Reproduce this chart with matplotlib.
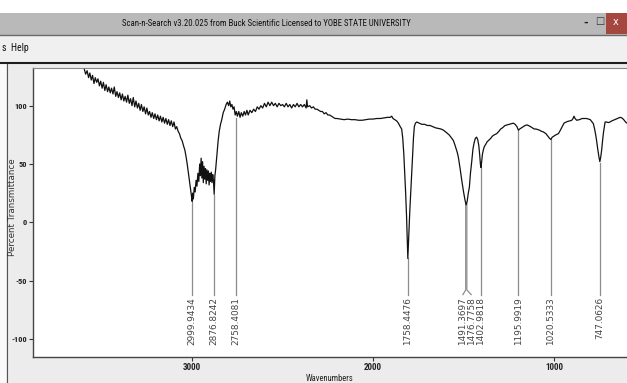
import matplotlib
matplotlib.use("Agg")
import matplotlib.pyplot as plt
from matplotlib.patches import Rectangle

# spectrum (wavenumber, % transmittance)
wavenumber = [3595, 3588, 3580, 3572, 3565, 3557, 3550, 3542, 3535, 3527, 3520, 3512, 3505, 3497, 3490,
              3482, 3475, 3467, 3460, 3452, 3445, 3437, 3430, 3422, 3415, 3407, 3400, 3392, 3385, 3377,
              3370, 3362, 3355, 3347, 3340, 3332, 3325, 3317, 3310, 3302, 3295, 3287, 3280, 3272, 3265,
              3257, 3250, 3242, 3235, 3227, 3220, 3212, 3205, 3197, 3190, 3182, 3175, 3167, 3160, 3152,
              3145, 3137, 3130, 3122, 3115, 3107, 3100, 3092, 3085, 3077, 3070, 3062, 3055, 3048, 3040,
              3033, 3027, 3020, 3014, 3008, 3003, 3000, 2997, 2993, 2988, 2983, 2978, 2973, 2968, 2963,
              2958, 2954, 2950, 2946, 2942, 2938, 2934, 2930, 2926, 2922, 2918, 2914, 2910, 2906, 2902,
              2898, 2894, 2890, 2886, 2882, 2878, 2874, 2870, 2866, 2862, 2856, 2850, 2843, 2836, 2828,
              2820, 2812, 2805, 2798, 2792, 2786, 2780, 2774, 2768, 2762, 2756, 2750, 2742, 2735, 2728,
              2720, 2712, 2705, 2697, 2690, 2680, 2670, 2660, 2650, 2640, 2630, 2620, 2610, 2600, 2590,
              2580, 2570, 2560, 2550, 2540, 2530, 2520, 2510, 2500, 2490, 2480, 2470, 2460, 2450, 2440,
              2430, 2420, 2410, 2400, 2390, 2380, 2370, 2366, 2362, 2350, 2340, 2330, 2320, 2310, 2300,
              2290, 2280, 2270, 2260, 2250, 2240, 2230, 2220, 2210, 2200, 2180, 2160, 2140, 2120, 2100,
              2080, 2060, 2040, 2020, 2000, 1980, 1960, 1940, 1920, 1905, 1897, 1890, 1880, 1870, 1860,
              1850, 1842, 1836, 1830, 1825, 1820, 1815, 1811, 1808, 1805, 1801, 1797, 1792, 1787, 1782,
              1777, 1772, 1766, 1758, 1745, 1730, 1715, 1700, 1685, 1670, 1655, 1640, 1625, 1611, 1595,
              1580, 1565, 1556, 1545, 1535, 1529, 1520, 1510, 1500, 1492, 1486, 1480, 1474, 1468, 1462,
              1455, 1448, 1442, 1435, 1428, 1422, 1416, 1411, 1407, 1404, 1400, 1396, 1391, 1385, 1377,
              1370, 1363, 1350, 1340, 1330, 1317, 1305, 1295, 1285, 1271, 1260, 1250, 1240, 1225, 1215,
              1205, 1197, 1190, 1180, 1170, 1160, 1150, 1142, 1130, 1120, 1110, 1100, 1090, 1080, 1070,
              1059, 1045, 1035, 1025, 1018, 1010, 1000, 990, 976, 965, 955, 945, 939, 925, 912,
              902, 895, 890, 884, 875, 860, 845, 830, 820, 810, 800, 790, 783, 776, 770,
              765, 758, 752, 747, 742, 737, 732, 727, 722, 718, 710, 700, 691, 680, 665,
              650, 635, 625, 615, 605, 597]
transmittance = [131, 127, 130, 124, 128, 122, 126, 119, 124, 120, 123, 117, 121, 115, 120,
                 113, 118, 112, 116, 111, 115, 110, 116, 108, 112, 107, 111, 105, 110, 104,
                 108, 103, 109, 102, 106, 100, 107, 99, 104, 98, 102, 96, 101, 95, 99,
                 93, 98, 92, 95, 90, 94, 89, 93, 88, 92, 87, 91, 86, 90, 85,
                 89, 84, 88, 83, 87, 82, 86, 80, 82, 78, 76, 72, 70, 66, 62,
                 56, 50, 42, 35, 28, 22, 18, 25, 20, 30, 26, 36, 31, 42, 35,
                 50, 40, 55, 38, 52, 34, 48, 37, 46, 33, 45, 36, 44, 32, 42,
                 35, 43, 34, 41, 36, 24, 40, 45, 52, 60, 70, 78, 84, 88, 94,
                 97, 101, 103, 100, 104, 99, 101, 97, 99, 92, 95, 91, 95, 90, 94,
                 91, 95, 92, 96, 92, 96, 94, 97, 95, 99, 97, 100, 98, 102, 99,
                 103, 100, 103, 100, 102, 99, 102, 100, 101, 99, 102, 99, 101, 98, 101,
                 99, 102, 99, 101, 99, 101, 98, 105, 99, 100, 98, 99, 97, 97, 96,
                 95, 95, 93, 94, 92, 92, 91, 90, 89, 89, 88.5, 88, 88.5, 88, 88,
                 87.5, 87.5, 88, 88.5, 88.5, 89, 89, 89.5, 90, 90, 91, 89, 88, 87, 85,
                 82, 80, 72, 58, 42, 25, 5, -15, -31, -20, -5, 10, 25, 40, 56,
                 72, 82, 85, 86, 85, 84, 84, 83, 83, 82, 81, 80.5, 80, 79, 77,
                 75, 72, 70, 65, 60, 56, 47, 36, 26, 19, 15, 18, 25, 30, 42,
                 52, 63, 68, 72, 73, 71, 66, 58, 50, 47, 52, 58, 62, 65, 67,
                 69, 70, 72, 74, 75, 76, 78, 80, 81, 83, 83.5, 84, 84.5, 85, 84,
                 82, 79, 80, 81, 82, 83, 83.5, 83, 82, 81, 80, 80, 79.5, 79, 78,
                 77.5, 76, 74, 72, 71, 73, 74, 75, 76, 79, 82, 85, 85.5, 86.5, 87,
                 87.5, 89, 91, 89, 87.5, 88, 89, 89, 89, 88.5, 88, 86, 84.6, 80, 75,
                 70, 62, 56, 52, 56, 62, 70, 77, 82, 86, 86, 85.5, 86, 87, 88,
                 89, 90, 89.5, 88, 86, 85]

# peak picks: printed label, where the mark sits on the axis, where the label sits, top of the mark
peak_labels = ["2999.9434", "2876.8242", "2758.4081", "1758.4476", "1491.3697",
               "1476.7758", "1402.9818", "1195.9919", "1020.5333", "747.0626"]
peak_pos = [3000, 2878, 2760, 1808, 1488, 1482, 1405, 1197, 1018, 746]
label_pos = [3000, 2878, 2760, 1808, 1504, 1458, 1405, 1197, 1018, 746]
peak_top = [18, 23, 89, -31, 16, 16, 47, 79, 71, 51]

x_ticks = [3000, 2000, 1000]
y_ticks = [100, 50, 0, -50, -100]

narrow = dict(family=["Roboto Condensed", "Liberation Sans Narrow", "DejaVu Sans"],
              stretch="condensed")

W, H = 627, 383
fig = plt.figure(figsize=(W / 100, H / 100), dpi=100)
fig.patch.set_facecolor("#ececec")


def box(x0, y0, x1, y1, color, z=0):
    # rectangle in screen pixels, y measured from the top
    fig.add_artist(Rectangle((x0 / W, 1 - y1 / H), (x1 - x0) / W, (y1 - y0) / H,
                             transform=fig.transFigure, facecolor=color, edgecolor="none", zorder=z))


def hline(y, x0, x1, color, lw):
    fig.add_artist(plt.Line2D([x0 / W, x1 / W], [1 - y / H, 1 - y / H],
                              transform=fig.transFigure, color=color, lw=lw))


# window chrome
box(0, 0, W, 13, "white")
box(0, 13, W, 35, "#b9b9b9")
hline(35, 0, W, "#6a6a6a", 1.0)
box(0, 36, W, 62, "#f0f0f0")
hline(62.5, 0, W, "#1e1e1e", 1.5)
box(0, 63, 6, H, "#fafafa")
fig.add_artist(plt.Line2D([6.5 / W, 6.5 / W], [0, 1 - 64 / H], transform=fig.transFigure,
                          color="#555555", lw=0.8))
box(606, 13, W, 34, "#a5473f", z=1)
fig.text(616 / W, 1 - 22 / H, "x", color="white", fontsize=7, ha="center", va="center")
fig.text(600 / W, 1 - 21 / H, "\u25a1", color="#333333", fontsize=7, ha="center", va="center")
fig.text(586 / W, 1 - 23 / H, "-", color="#222222", fontsize=8, ha="center", va="center",
         fontweight="bold")
title = fig.text(266 / W, 1 - 23.5 / H,
                 "Scan-n-Search v3.20.025 from Buck Scientific Licensed to YOBE STATE UNIVERSITY",
                 fontsize=8.2, ha="center", va="center", color="#111111", **narrow)
fig.text(2 / W, 1 - 48 / H, "s  Help", fontsize=7, ha="left", va="center",
         color="#111111", **narrow)

# plot area
ax = fig.add_axes([33 / W, 1 - 357 / H, (W - 33) / W, (357 - 68) / H])
ax.set_facecolor("white")
ax.set_xlim(3879, 597)
ax.set_ylim(-115.5, 132.3)

ax.plot(wavenumber, transmittance, color="#111111", lw=0.9, zorder=3)

for lab, xp, xl, top in zip(peak_labels, peak_pos, label_pos, peak_top):
    ax.plot([xp, xp, xl], [top, -58, -62], color="#8c8c8c", lw=0.9, zorder=2)
    ax.text(xl, -64, lab, rotation=90, ha="center", va="top", fontsize=6.4, color="#444444")

ax.set_xticks(x_ticks)
ax.set_xticklabels([str(v) for v in x_ticks], fontweight="bold", fontsize=6.5, **narrow)
ax.set_yticks(y_ticks)
ax.set_yticklabels([str(v) for v in y_ticks], fontweight="bold", fontsize=6, **narrow)
ax.tick_params(length=3, width=0.8, color="#333333", pad=1.5, labelcolor="#222222")

for side in ["left", "bottom"]:
    ax.spines[side].set_color("#444444")
    ax.spines[side].set_linewidth(1.0)
ax.spines["top"].set_color("#888888")
ax.spines["right"].set_visible(False)

ax.set_xlabel("Wavenumbers", fontsize=6.2, labelpad=1, color="#222222", **narrow)
fig.text(13 / W, 1 - 207 / H, "Percent Transmittance", rotation=90, fontsize=6.3,
         ha="center", va="center", color="#333333")

# squeeze the title into the width it has on screen when no narrow face is around
fig.canvas.draw()
tw = title.get_window_extent().width
if tw > 290:
    title.set_fontsize(8.2 * 287 / tw)

fig.savefig("out.png", dpi=100, facecolor=fig.get_facecolor())
